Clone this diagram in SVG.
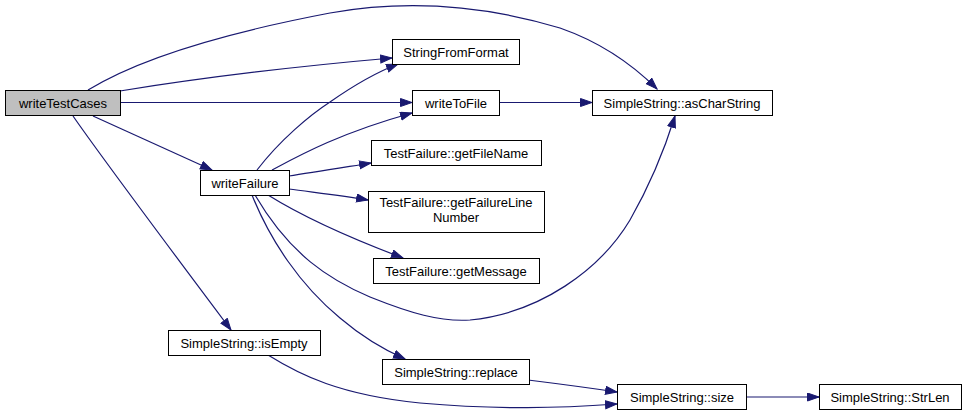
<svg xmlns="http://www.w3.org/2000/svg" width="968" height="416" viewBox="0 0 968 416">
<style>
.n rect{fill:#fff;stroke:#000;stroke-width:1}
.n text{font-family:"Liberation Sans",Arial,sans-serif;font-size:13px;fill:#000;text-anchor:middle}
#e path{fill:none;stroke:#191970;stroke-width:1.2;marker-end:url(#a)}
</style>
<defs>
<marker id="a" markerUnits="userSpaceOnUse" markerWidth="13" markerHeight="10" refX="12" refY="4.5" orient="auto">
<path d="M0.5,0.5 L12,4.5 L0.5,8.5 z" fill="#191970" stroke="#191970" stroke-width="1"/>
</marker>
</defs>
<rect width="968" height="416" fill="#fff"/>
<g id="e">
<path d="M88,90 C140,58 230,32 330,13 C420,-3 500,10 560,28 C600,42 630,62 657,89"/>
<path d="M120,91 C200,78 300,66 392,58"/>
<path d="M120,102.5 L412,102.5"/>
<path d="M93,116 L212,170"/>
<path d="M73,116 C100,155 180,262 231,330"/>
<path d="M257,170 C280,140 310,115 330,102 C350,88 372,74 398,64"/>
<path d="M272,170 C300,155 340,133 412,113"/>
<path d="M289,176 C310,173 340,168 371,163"/>
<path d="M289,189 C310,192 340,195 368,200"/>
<path d="M268,195 C300,215 350,238 403,258"/>
<path d="M255,195 C290,255 330,280 370,297 C410,313 440,322 470,320 C540,313 600,270 630,220 C650,185 665,148 675,116"/>
<path d="M252,195 C270,240 300,285 340,318 C360,335 380,348 405,359"/>
<path d="M499,102.5 L592,102.5"/>
<path d="M268,355 C300,375 340,395 420,403 C500,410 560,408 617,404"/>
<path d="M528,380 C560,384 590,388 617,392"/>
<path d="M746,397 L819,397"/>
</g>
<g id="writeTestCases" class="n"><rect x="5.5" y="90.5" width="115" height="25" style="fill:#bfbfbf"/><text x="63" y="107.5">writeTestCases</text></g>
<g id="writeFailure" class="n"><rect x="200.5" y="170.5" width="89" height="25"/><text x="245" y="187.5">writeFailure</text></g>
<g id="StringFromFormat" class="n"><rect x="392.5" y="39.5" width="127" height="25"/><text x="456" y="56.5">StringFromFormat</text></g>
<g id="writeToFile" class="n"><rect x="412.5" y="90.5" width="87" height="25"/><text x="456" y="107.5">writeToFile</text></g>
<g id="getFileName" class="n"><rect x="371.5" y="140.5" width="170" height="25"/><text x="456" y="157.5">TestFailure::getFileName</text></g>
<g id="getFailureLineNumber" class="n"><rect x="368.5" y="191.5" width="176" height="41"/><text x="456" y="207">TestFailure::getFailureLine</text><text x="456" y="222">Number</text></g>
<g id="getMessage" class="n"><rect x="373.5" y="258.5" width="166" height="25"/><text x="456" y="275.5">TestFailure::getMessage</text></g>
<g id="asCharString" class="n"><rect x="592.5" y="90.5" width="180" height="25"/><text x="682" y="107.5">SimpleString::asCharString</text></g>
<g id="isEmpty" class="n"><rect x="168.5" y="330.5" width="152" height="25"/><text x="244" y="347.5">SimpleString::isEmpty</text></g>
<g id="replace" class="n"><rect x="382.5" y="359.5" width="147" height="25"/><text x="456" y="376.5">SimpleString::replace</text></g>
<g id="size" class="n"><rect x="617.5" y="384.5" width="129" height="25"/><text x="682" y="401.5">SimpleString::size</text></g>
<g id="StrLen" class="n"><rect x="819.5" y="384.5" width="142" height="25"/><text x="890" y="401.5">SimpleString::StrLen</text></g>
</svg>
